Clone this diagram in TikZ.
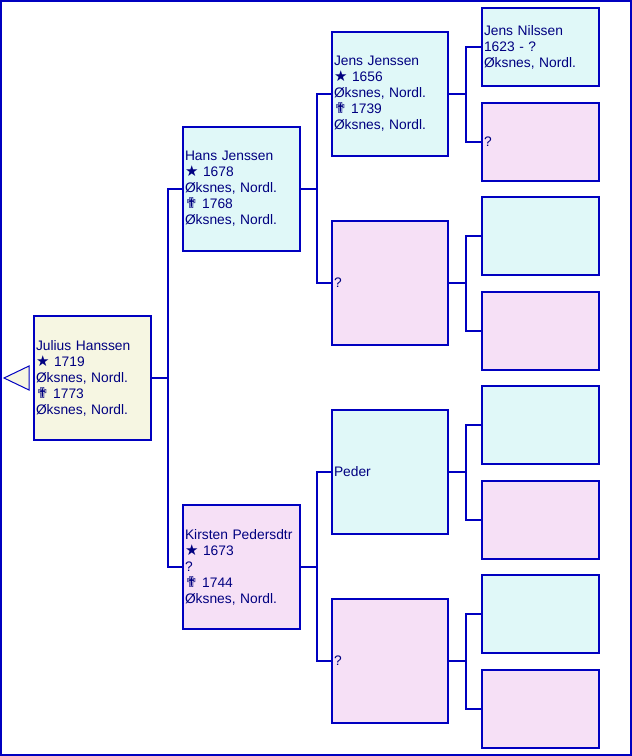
\documentclass[tikz,border=0pt]{standalone}
\usepackage{fontspec}
\setmainfont{Liberation Sans}
\newfontfamily\symfont{DejaVu Sans}
\definecolor{bord}{HTML}{0000C0}
\definecolor{txtc}{HTML}{000080}
\definecolor{creamf}{HTML}{F6F6E2}
\definecolor{cyanf}{HTML}{E0F8F8}
\definecolor{pinkf}{HTML}{F6E0F6}
\newcommand{\bstar}{{\symfont\fontsize{15}{16}\selectfont ★}}
\newcommand{\bcross}{{\symfont\fontsize{15}{16}\selectfont ✟}}
\begin{document}
\begin{tikzpicture}[x=1pt,y=-1pt,
  pbox/.style={draw=bord, line width=2pt, rectangle, minimum width=117pt, minimum height=124pt,
    text width=113pt, align=left, inner xsep=2pt, inner ysep=0pt, text=txtc,
    font=\fontsize{13.8}{16}\selectfont},
  sbox/.style={pbox, minimum height=78pt},
  link/.style={draw=bord, line width=2pt}]
\useasboundingbox (0,0) rectangle (632,756);
\draw[bord, line width=2pt] (1,1) rectangle (631,755);
% generation 1
\node[pbox, fill=creamf] (jul) at (92.5,378) {Julius Hanssen\\\bstar{} 1719\\Øksnes, Nordl.\\\bcross{} 1773\\Øksnes, Nordl.};
% generation 2
\node[pbox, fill=cyanf] (hans) at (241.5,189) {Hans Jenssen\\\bstar{} 1678\\Øksnes, Nordl.\\\bcross{} 1768\\Øksnes, Nordl.};
\node[pbox, fill=pinkf] (kirs) at (241.5,567) {Kirsten Pedersdtr\\\bstar{} 1673\\?\\\bcross{} 1744\\Øksnes, Nordl.};
% generation 3
\node[pbox, fill=cyanf, minimum width=116pt, text width=112pt] (jens) at (390,94) {Jens Jenssen\\\bstar{} 1656\\Øksnes, Nordl.\\\bcross{} 1739\\Øksnes, Nordl.};
\node[pbox, fill=pinkf, minimum width=116pt, text width=112pt] (qa) at (390,283) {?};
\node[pbox, fill=cyanf, minimum width=116pt, text width=112pt] (peder) at (390,472) {Peder};
\node[pbox, fill=pinkf, minimum width=116pt, text width=112pt] (qb) at (390,661) {?};
% generation 4
\node[sbox, fill=cyanf] (g1) at (540.5,47) {Jens Nilssen\\1623 - ?\\Øksnes, Nordl.};
\node[sbox, fill=pinkf] (g2) at (540.5,142) {?};
\node[sbox, fill=cyanf] (g3) at (540.5,236) {};
\node[sbox, fill=pinkf] (g4) at (540.5,331) {};
\node[sbox, fill=cyanf] (g5) at (540.5,425) {};
\node[sbox, fill=pinkf] (g6) at (540.5,520) {};
\node[sbox, fill=cyanf] (g7) at (540.5,614) {};
\node[sbox, fill=pinkf] (g8) at (540.5,709) {};
% connectors
\draw[link] (jul.east) -- ++(16,0) |- (hans.west);
\draw[link] (jul.east) -- ++(16,0) |- (kirs.west);
\draw[link] (hans.east) -- ++(16,0) |- (jens.west);
\draw[link] (hans.east) -- ++(16,0) |- (qa.west);
\draw[link] (kirs.east) -- ++(16,0) |- (peder.west);
\draw[link] (kirs.east) -- ++(16,0) |- (qb.west);
\draw[link] (jens.east) -- ++(17,0) |- (g1.west);
\draw[link] (jens.east) -- ++(17,0) |- (g2.west);
\draw[link] (qa.east) -- ++(17,0) |- (g3.west);
\draw[link] (qa.east) -- ++(17,0) |- (g4.west);
\draw[link] (peder.east) -- ++(17,0) |- (g5.west);
\draw[link] (peder.east) -- ++(17,0) |- (g6.west);
\draw[link] (qb.east) -- ++(17,0) |- (g7.west);
\draw[link] (qb.east) -- ++(17,0) |- (g8.west);
% back arrow triangle
\coordinate (tri) at ([xshift=-4pt]jul.west);
\draw[bord, line width=1pt, fill=creamf] (tri) -- ++(0,-12) -- ++(-25,12) -- ++(25,12) -- cycle;
\end{tikzpicture}
\end{document}
